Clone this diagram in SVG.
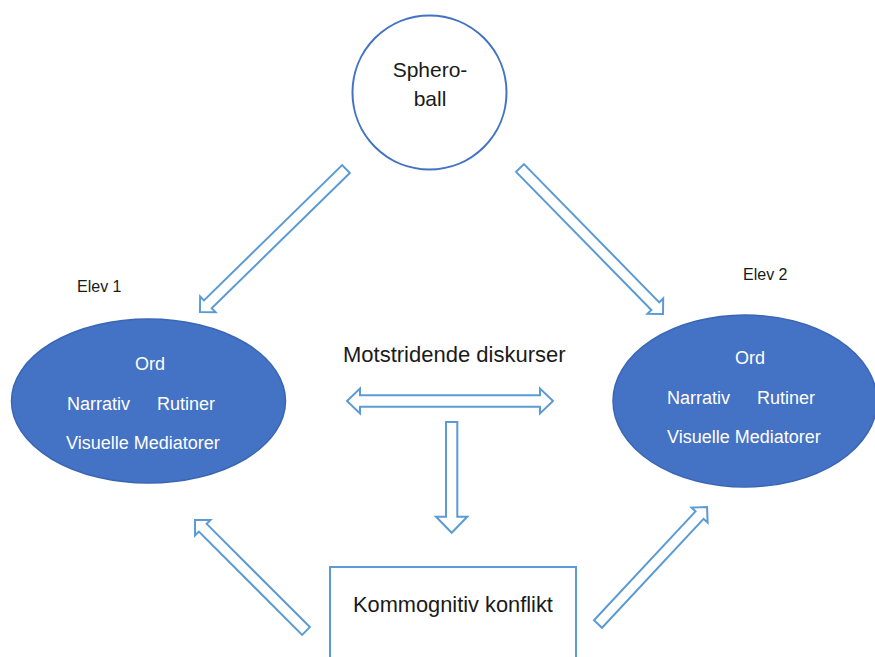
<svg xmlns="http://www.w3.org/2000/svg" width="875" height="657" viewBox="0 0 875 657">
<style>
.arr{fill:#ffffff;stroke:#5B9BD5;stroke-width:2;stroke-linejoin:miter}
.lbl{font-family:"Liberation Sans",Arial,sans-serif;fill:#1a1a1a}
.in{font-family:"Liberation Sans",Arial,sans-serif;fill:#ffffff;font-size:18px}
.ell{fill:#4472C4;stroke:#3A66B5;stroke-width:1.5}
</style>
<rect width="875" height="657" fill="#ffffff"/>
<g id="spheroball">
<circle cx="429.5" cy="92.5" r="77" fill="#ffffff" stroke="#4472C4" stroke-width="2"/>
<text class="lbl" x="430" y="77" font-size="21" text-anchor="middle">Sphero-</text>
<text class="lbl" x="430" y="106" font-size="21" text-anchor="middle">ball</text>
</g>
<g id="elev1">
<text class="lbl" x="77" y="292" font-size="16">Elev 1</text>
<ellipse class="ell" cx="148.5" cy="401" rx="137" ry="82"/>
<text class="in" x="150" y="370" text-anchor="middle">Ord</text>
<text class="in" x="67" y="410">Narrativ</text>
<text class="in" x="157" y="410">Rutiner</text>
<text class="in" x="66" y="449">Visuelle Mediatorer</text>
</g>
<g id="elev2">
<text class="lbl" x="743" y="280" font-size="16">Elev 2</text>
<ellipse class="ell" cx="745" cy="401" rx="132" ry="86"/>
<text class="in" x="750" y="364" text-anchor="middle">Ord</text>
<text class="in" x="667" y="404">Narrativ</text>
<text class="in" x="757" y="404">Rutiner</text>
<text class="in" x="667" y="443">Visuelle Mediatorer</text>
</g>
<g id="diskurser">
<text class="lbl" x="343" y="362" font-size="22">Motstridende diskurser</text>
</g>
<g id="konflikt">
<rect x="330" y="567" width="246" height="100" fill="#ffffff" stroke="#5B9BD5" stroke-width="2"/>
<text class="lbl" x="353" y="612" font-size="21.8">Kommognitiv konflikt</text>
</g>
<g id="connectors">
<polygon class="arr" transform="translate(346,169) rotate(135.6)" points="0,-5.5 193.4,-5.5 193.4,-11 204.4,0 193.4,11 193.4,5.5 0,5.5"/>
<polygon class="arr" transform="translate(520,168) rotate(45.6)" points="0,-5.5 193.4,-5.5 193.4,-11 204.4,0 193.4,11 193.4,5.5 0,5.5"/>
<polygon class="arr" transform="translate(306,631) rotate(-135)" points="0,-5.5 146,-5.5 146,-11 157,0 146,11 146,5.5 0,5.5"/>
<polygon class="arr" transform="translate(598,624) rotate(-47)" points="0,-5.5 148.9,-5.5 148.9,-11 159.9,0 148.9,11 148.9,5.5 0,5.5"/>
<polygon class="arr" points="347,401 360,388.5 360,395.2 540,395.2 540,388.5 553,401 540,413.5 540,406.8 360,406.8 360,413.5"/>
<polygon class="arr" points="446,422 457.3,422 457.3,516.7 467.3,516.7 451.7,532.7 436,516.7 446,516.7"/>
</g>
</svg>
